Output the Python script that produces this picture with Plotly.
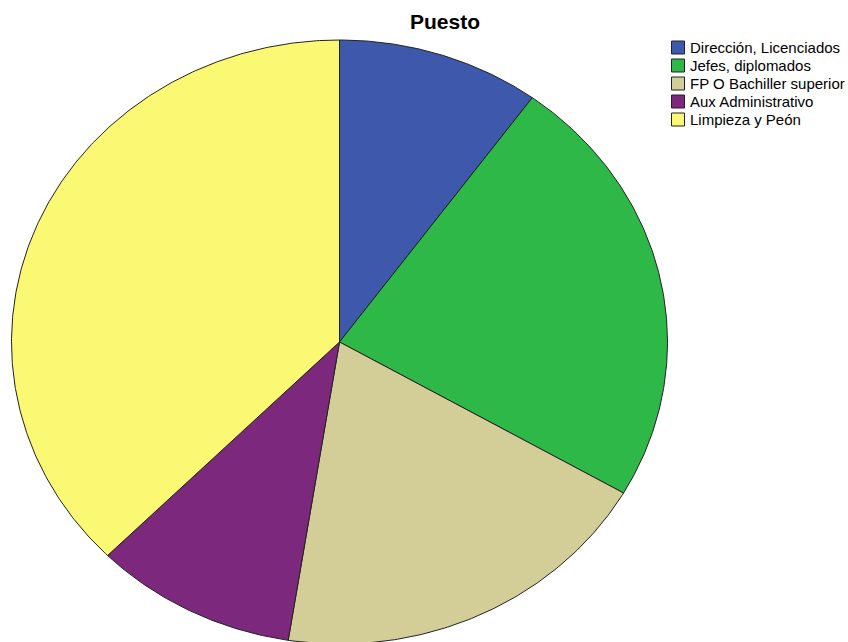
import numpy as np
import plotly.graph_objects as go

categories = ["Dirección, Licenciados", "Jefes, diplomados", "FP O Bachiller superior",
              "Aux Administrativo", "Limpieza y Peón"]
counts = [12, 28, 23, 12, 45]
colors = ["#3E58AC", "#2EB848", "#D3CE97", "#7C287D", "#FBF873"]

W, H = 848, 642
cx, cy, rx, ry = 339.5, 342, 328, 302

fig = go.Figure()
total = sum(counts)
start = 0.0
for name, val, col in zip(categories, counts, colors):
    frac = val / total
    th = np.linspace(start, start + frac, max(int(frac * 720), 4)) * 2 * np.pi
    xs = np.concatenate([[cx], cx + rx * np.sin(th), [cx]])
    ys = np.concatenate([[cy], cy - ry * np.cos(th), [cy]])
    fig.add_trace(go.Scatter(x=xs, y=ys, fill="toself", fillcolor=col, mode="lines",
                             line=dict(color="#222222", width=1), name=name,
                             showlegend=False, hoveron="fills"))
    start += frac

# custom legend (swatches + labels)
lx, ly0, dy, sw = 671.5, 47.5, 18, 13
shapes, annotations = [], []
for i, (name, col) in enumerate(zip(categories, colors)):
    yc = ly0 + i * dy
    shapes.append(dict(type="rect", xref="x", yref="y", x0=lx, x1=lx + sw,
                       y0=yc - sw / 2, y1=yc + sw / 2, fillcolor=col,
                       line=dict(color="#222222", width=1)))
    annotations.append(dict(xref="x", yref="y", x=lx + sw + 3, y=yc, text=name,
                            showarrow=False, xanchor="left", yanchor="middle",
                            font=dict(family="Liberation Sans, Arial", size=15,
                                      color="black")))

fig.update_layout(
    width=W, height=H, margin=dict(l=0, r=0, t=0, b=0),
    paper_bgcolor="white", plot_bgcolor="white",
    xaxis=dict(range=[0, W], visible=False, fixedrange=True),
    yaxis=dict(range=[H, 0], visible=False, fixedrange=True),
    title=dict(text="<b>Puesto</b>", x=445 / W, xanchor="center", y=1 - 22 / H,
               yanchor="middle", yref="container",
               font=dict(family="Liberation Sans, Arial", size=21, color="black")),
    shapes=shapes, annotations=annotations,
    showlegend=False,
)
fig.write_html("out.html")
